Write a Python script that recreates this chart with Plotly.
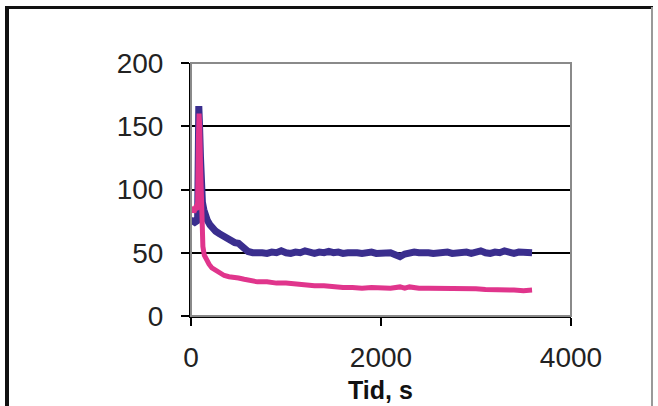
import plotly.graph_objects as go

# Time (s) and readings
blue_t = [0, 20, 40, 60, 70, 78, 82, 90, 100, 110, 120, 135, 150, 170, 200, 230, 260, 300,
          340, 380, 420, 460, 500, 530, 560, 600, 650, 700, 750, 800, 850, 900, 950, 1000,
          1050, 1100, 1150, 1200, 1250, 1300, 1350, 1400, 1450, 1500, 1550, 1600, 1650,
          1700, 1750, 1800, 1850, 1900, 1950, 2000, 2050, 2100, 2150, 2200, 2250, 2300,
          2350, 2400, 2450, 2500, 2550, 2600, 2650, 2700, 2750, 2800, 2850, 2900, 2950,
          3000, 3050, 3100, 3150, 3200, 3250, 3300, 3350, 3400, 3450, 3500, 3550, 3590]
blue_v = [74, 75, 74, 75, 78, 150, 166, 150, 125, 100, 90, 84, 80, 76, 72, 69, 67, 65,
          63, 61, 59, 58, 57.5, 55, 53, 51, 50, 50.5, 50, 49.5, 50.5, 50, 51.5, 50,
          49.5, 50.5, 50, 51.5, 50, 49.5, 50.5, 50, 51, 50, 50.5, 49.5, 50,
          50.5, 50, 49.5, 50, 50.5, 49.5, 50, 49.5, 50, 48.5, 47, 49, 50,
          50.5, 50, 50.5, 50, 49.5, 50, 50, 50.5, 49.5, 50, 50, 50.5, 49.5,
          50, 51.5, 50, 49.5, 50.5, 50, 51.5, 50, 49.5, 50.5, 50, 49.5, 50]

pink_t = [0, 15, 30, 45, 60, 70, 78, 85, 92, 100, 108, 116, 125, 140, 165, 190, 220, 260,
          300, 350, 400, 450, 500, 560, 620, 700, 800, 900, 1000, 1100, 1200, 1300, 1400,
          1500, 1600, 1700, 1800, 1900, 2000, 2100, 2200, 2250, 2300, 2400, 2500, 2600,
          2700, 2800, 2900, 3000, 3100, 3200, 3300, 3400, 3500, 3590]
pink_v = [83, 86, 82, 85, 84, 90, 140, 160, 150, 120, 90, 68, 55, 48, 44, 41, 38, 36,
          34, 32, 31, 30, 30, 29, 28, 27, 27, 26, 26, 25, 25, 24, 24,
          23, 22.5, 22.5, 22, 22.5, 22, 22, 23, 22, 23, 22, 22, 22,
          21.5, 21.5, 21.5, 21.5, 21, 21, 21, 20.5, 20, 20.5]

x_ticks = [0, 2000, 4000]
y_ticks = [0, 50, 100, 150, 200]
x_title = "Tid, s"

BLUE = "#3a2e8e"
PINK = "#e0358c"
FONT = "Liberation Sans, Arial, sans-serif"

fig = go.Figure()
fig.add_trace(go.Scatter(x=blue_t, y=blue_v, mode="lines",
                         line=dict(color=BLUE, width=7), showlegend=False))
fig.add_trace(go.Scatter(x=pink_t, y=pink_v, mode="lines",
                         line=dict(color=PINK, width=5), showlegend=False))

L, R, T, B = 191, 87, 63, 90
W, H = 658, 406
pw, ph = W - L - R, H - T - B

def px(x):
    return (x - L) / pw

def py(y):
    return (H - B - y) / ph

# outer frame: heavy left and top, light right, no visible bottom
fig.add_shape(type="line", xref="paper", yref="paper",
              x0=px(7), x1=px(7), y0=py(420), y1=py(6),
              line=dict(color="#111111", width=4), layer="below")
fig.add_shape(type="line", xref="paper", yref="paper",
              x0=px(5), x1=px(653), y0=py(7.5), y1=py(7.5),
              line=dict(color="#111111", width=3), layer="below")
fig.add_shape(type="line", xref="paper", yref="paper",
              x0=px(652), x1=px(652), y0=py(420), y1=py(7),
              line=dict(color="#999999", width=2), layer="below")
# plot border (grey top/right)
fig.add_shape(type="rect", xref="paper", yref="paper", x0=0, x1=1, y0=0, y1=1,
              line=dict(color="#8a8a8a", width=2), layer="above")

fig.add_annotation(text="<b>" + x_title + "</b>", xref="paper", yref="paper",
                   x=px(380), y=py(390), xanchor="center", yanchor="middle",
                   showarrow=False, font=dict(size=25, color="#111111"))

fig.update_layout(
    width=W, height=H,
    margin=dict(l=L, r=R, t=T, b=B),
    paper_bgcolor="white", plot_bgcolor="white",
    font=dict(family=FONT, size=28, color="#222222"),
    showlegend=False,
)
fig.update_xaxes(range=[0, 4000], tickvals=x_ticks, ticktext=[str(v) for v in x_ticks],
                 showgrid=False, zeroline=False, showline=True, linecolor="black",
                 linewidth=2, ticks="outside", ticklen=8, tickwidth=2, tickcolor="black",
                 ticklabelstandoff=7)
fig.update_yaxes(range=[0, 200], tickvals=y_ticks, ticktext=[str(v) for v in y_ticks],
                 showgrid=True, gridcolor="black", gridwidth=2, zeroline=False,
                 showline=True, linecolor="black", linewidth=2, ticks="outside",
                 ticklen=8, tickwidth=2, tickcolor="black", ticklabelstandoff=12)

fig.write_html("out.html", config={"displayModeBar": False},
               post_script="document.body.style.margin='0px';")
